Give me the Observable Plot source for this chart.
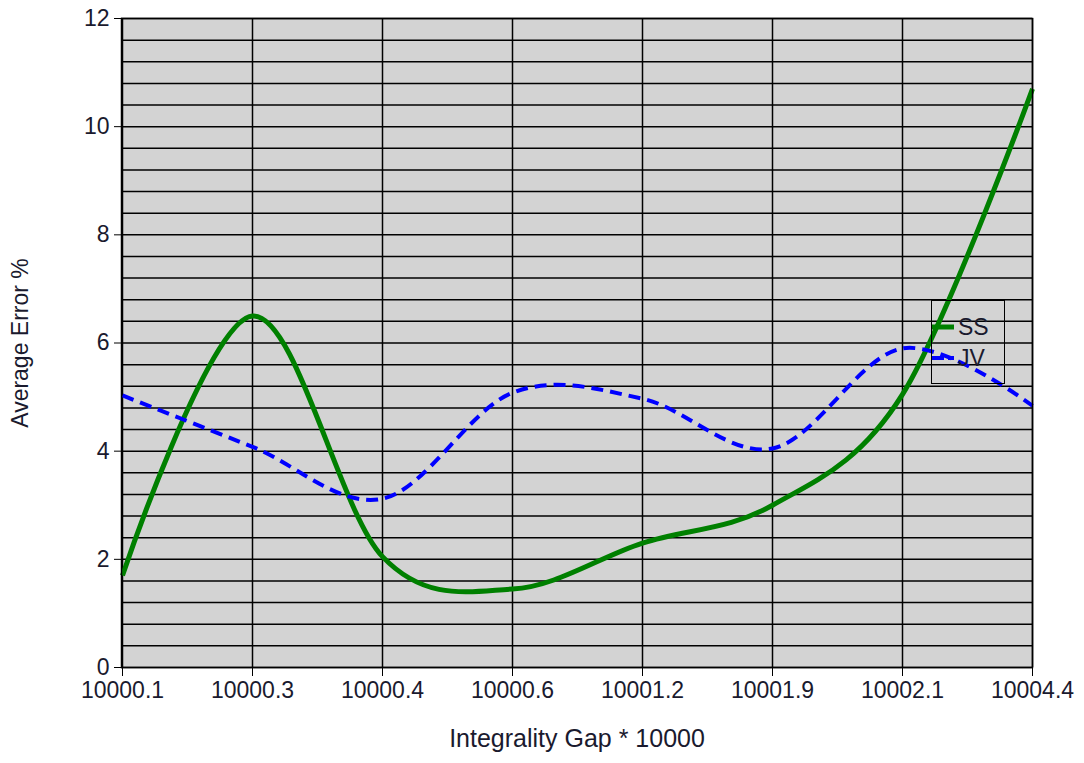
<!DOCTYPE html>
<html>
<head>
<meta charset="utf-8">
<script src="https://cdn.jsdelivr.net/npm/d3@7"></script>
<script src="https://cdn.jsdelivr.net/npm/@observablehq/plot@0.6"></script>
<style>
  html, body { margin: 0; padding: 0; background: #fff; }
  #wrap { position: relative; width: 1084px; height: 763px; font-family: "Liberation Sans", Arial, sans-serif; }
  #legend { position: absolute; left: 931px; top: 300px; width: 74px; height: 84px;
            border: 1.5px solid #000; box-sizing: border-box; font-size: 23px; color: #1a1a2e; }
  .item { position: absolute; left: 0; height: 30px; display: flex; align-items: center; }
  .item svg { display: block; }
  .item span { margin-left: 4px; line-height: 1; }
</style>
</head>
<body>
<div id="wrap"></div>
<script>
// Integrality gap categories (x axis, evenly spaced)
const gaps = ["10000.1", "10000.3", "10000.4", "10000.6", "10001.2", "10001.9", "10002.1", "10004.4"];
// Average error % for each method
const ssValues = [1.7, 6.5, 2.05, 1.45, 2.3, 3.0, 5.05, 10.7];
const jvValues = [5.03, 4.08, 3.12, 5.08, 4.97, 4.05, 5.9, 4.84];
// Y axis labels and minor grid spacing
const yTicks = [0, 2, 4, 6, 8, 10, 12];
const gridStep = 0.4;

const series = [
  {name: "SS", values: ssValues, color: "#008000", width: 5, dash: null},
  {name: "JV", values: jvValues, color: "#0000ff", width: 4, dash: "12,7"}
];

const rows = series.flatMap(s => gaps.map((g, i) => ({series: s.name, gap: g, value: s.values[i]})));
const gridLines = d3.range(0, 12 + 1e-9, gridStep);

const chart = Plot.plot({
  width: 1084,
  height: 763,
  marginLeft: 121,
  marginRight: 52,
  marginTop: 18,
  marginBottom: 96,
  style: {fontFamily: "'Liberation Sans', Arial, sans-serif", fontSize: "23px", color: "#1a1a2e", background: "#fff"},
  x: {type: "point", domain: gaps, padding: 0},
  y: {domain: [0, 12]},
  marks: [
    Plot.frame({fill: "#d3d3d3", stroke: null}),
    Plot.ruleY(gridLines, {stroke: "#000", strokeWidth: 1.5, strokeOpacity: 1}),
    Plot.ruleX(gaps, {stroke: "#000", strokeWidth: 1.5, strokeOpacity: 1}),
    Plot.axisY({ticks: yTicks, tickSize: 7, tickPadding: 5, label: null, stroke: "#000", strokeOpacity: 1}),
    Plot.axisX({tickSize: 9, tickPadding: 5, label: null, stroke: "#000", strokeOpacity: 1}),
    ...series.map(s => Plot.line(rows.filter(r => r.series === s.name), {
      x: "gap", y: "value", curve: "cardinal", tension: 0,
      stroke: s.color, strokeWidth: s.width, strokeDasharray: s.dash, strokeLinecap: "butt"
    })),
    Plot.frame({stroke: "#000", strokeWidth: 1.5}),
    Plot.text(["Integrality Gap * 10000"], {frameAnchor: "bottom", dy: 79, fontSize: 25, fill: "#1a1a2e"}),
    Plot.text(["Average Error %"], {frameAnchor: "left", textAnchor: "middle", dx: -101, rotate: -90, fontSize: 23, fill: "#1a1a2e"})
  ]
});

const wrap = document.getElementById("wrap");
wrap.appendChild(chart);

// Legend box drawn over the upper right of the plot area
const legend = document.createElement("div");
legend.id = "legend";
series.forEach((s, i) => {
  const item = document.createElement("div");
  item.className = "item";
  item.style.top = (11 + i * 31) + "px";
  const sw = d3.create("svg").attr("width", 22).attr("height", 10);
  sw.append("line").attr("x1", 0).attr("x2", 22).attr("y1", 5).attr("y2", 5)
    .attr("stroke", s.color).attr("stroke-width", s.width)
    .attr("stroke-dasharray", s.dash ? "12,4" : null);
  item.appendChild(sw.node());
  const label = document.createElement("span");
  label.textContent = s.name;
  item.appendChild(label);
  legend.appendChild(item);
});
wrap.appendChild(legend);
</script>
</body>
</html>
